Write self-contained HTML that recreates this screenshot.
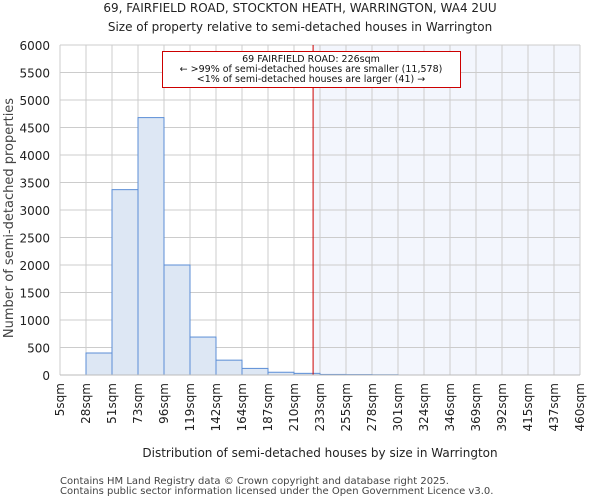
<!DOCTYPE html>
<html><head><meta charset="utf-8"><style>
body{margin:0;background:#fff;font-family:"DejaVu Sans","Liberation Sans",sans-serif;}
</style></head><body>
<svg id="chart" width="600" height="500" xmlns="http://www.w3.org/2000/svg" font-family="DejaVu Sans, Liberation Sans, sans-serif">
<text x="300" y="12" text-anchor="middle" font-size="12" fill="#222">69, FAIRFIELD ROAD, STOCKTON HEATH, WARRINGTON, WA4 2UU</text>
<text x="300" y="31" text-anchor="middle" font-size="12" fill="#222">Size of property relative to semi-detached houses in Warrington</text>
<g id="plot"></g>
<text x="320" y="457" text-anchor="middle" font-size="12" fill="#222">Distribution of semi-detached houses by size in Warrington</text>
<text transform="translate(13,218) rotate(-90)" text-anchor="middle" font-size="13" fill="#444">Number of semi-detached properties</text>
<text x="60" y="484" font-size="10" fill="#444">Contains HM Land Registry data © Crown copyright and database right 2025.</text>
<text x="60" y="494" font-size="10" fill="#444">Contains public sector information licensed under the Open Government Licence v3.0.</text>
</svg>
<script>
const binEdges=[5,28,51,73,96,119,142,164,187,210,233,255,278,301,324,346,369,392,415,437,460];
const counts=[0,400,3370,4680,2000,690,270,120,50,30,10,8,5,0,0,0,0,0,0,0];
const yTicks=[0,500,1000,1500,2000,2500,3000,3500,4000,4500,5000,5500,6000];
const propertySize=226;
const annotationLines=["69 FAIRFIELD ROAD: 226sqm","← >99% of semi-detached houses are smaller (11,578)","<1% of semi-detached houses are larger (41) →"];
const NS="http://www.w3.org/2000/svg";
const X0=60,X1=580,Y0=375,Y1=45;
const n=binEdges.length-1;
const xi=i=>X0+(X1-X0)*i/n;
const xv=v=>{for(let i=0;i<n;i++){if(v<=binEdges[i+1])return xi(i)+(v-binEdges[i])/(binEdges[i+1]-binEdges[i])*(xi(i+1)-xi(i));}return X1;};
const y=v=>Y0-(Y0-Y1)*v/6000;
const g=document.getElementById('plot');
function mk(t,a){const e=document.createElementNS(NS,t);for(const k in a)e.setAttribute(k,a[k]);g.appendChild(e);return e;}
let e;
const lx=xv(propertySize)+1;
e=mk('rect',{x:lx,y:Y1,width:X1-lx,height:Y0-Y1,fill:'#f3f6fd'});


yTicks.forEach(t=>{
 e=mk('line',{x1:X0,x2:X1,y1:y(t),y2:y(t),stroke:'#ccc','stroke-width':1});
 
 
 e=mk('text',{x:X0-10,y:y(t)+5,'text-anchor':'end','font-size':12,fill:'#222'});
 e.textContent=t;
 
 
});
binEdges.forEach((b,i)=>{
 e=mk('line',{x1:xi(i),x2:xi(i),y1:Y1,y2:Y0,stroke:'#ccc','stroke-width':1});
 
 
 const tx=xi(i)+4;
 e=mk('text',{x:tx,y:Y0+8,'text-anchor':'end','font-size':12,fill:'#222',transform:`rotate(-90 ${tx} ${Y0+8})`});
 e.textContent=b+'sqm';
 
 
});
counts.forEach((c,i)=>{
 if(c<=0)return;
 e=mk('rect',{x:xi(i),y:y(c),width:xi(i+1)-xi(i),height:Y0-y(c),fill:'#dde7f4',stroke:'#5b8ed6','stroke-width':1});
 
 
});
e=mk('line',{x1:lx,x2:lx,y1:Y1,y2:Y0,stroke:'#cc0000','stroke-width':1});


e=mk('rect',{x:162.5,y:51.5,width:298,height:36,fill:'#fff',stroke:'#cc0000','stroke-width':1});


annotationLines.forEach((l,i)=>{
 e=mk('text',{x:311,y:62+i*10,'text-anchor':'middle','font-size':9.5,fill:'#111'});
 e.textContent=l;
 
 
});
e=mk('line',{x1:X0,x2:X1,y1:Y0,y2:Y0,stroke:'#bbb','stroke-width':1});


</script>
</body></html>
